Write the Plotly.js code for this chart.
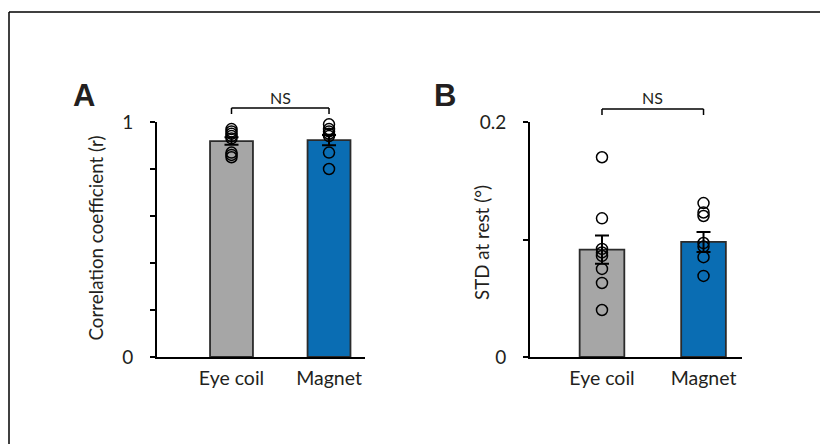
<!DOCTYPE html>
<html><head><meta charset="utf-8">
<script src="https://cdn.plot.ly/plotly-3.0.1.min.js"></script>
<style>body{margin:0;background:#fff}</style>
</head><body><div id="chart" style="width:820px;height:444px"></div>
<script>
const categories = ['Eye coil', 'Magnet'];
// Panel A: correlation coefficient
const corrMean = [0.919, 0.923];
const corrSem = [0.016, 0.022];
const corrEyeCoil = [0.97, 0.96, 0.95, 0.94, 0.93, 0.87, 0.86, 0.85];
const corrMagnet = [0.99, 0.97, 0.96, 0.95, 0.94, 0.87, 0.80];
const corrTickVals = [0, 0.2, 0.4, 0.6, 0.8, 1];
const corrTickText = ['0', '', '', '', '', '1'];
// Panel B: STD at rest
const stdMean = [0.0914, 0.0979];
const stdSem = [0.012, 0.0085];
const stdEyeCoil = [0.170, 0.118, 0.092, 0.089, 0.086, 0.075, 0.063, 0.040];
const stdMagnet = [0.131, 0.123, 0.120, 0.097, 0.094, 0.085, 0.069];
const stdTickVals = [0, 0.1, 0.2];
const stdTickText = ['0', '', '0.2'];

const barColors = ['#a6a6a6', '#0a6db3'];
const txt = '#231f20';
const FONT = 'Lato, Open Sans, sans-serif';

function barTrace(means, sems, xa, ya) {
  return {
    type: 'bar', x: categories, y: means, xaxis: xa, yaxis: ya, width: 0.44,
    marker: {color: barColors, line: {color: '#2b2b2b', width: 1.8}},
    error_y: {type: 'data', array: sems, visible: true, color: '#000', thickness: 2, width: 7},
    hoverinfo: 'skip'
  };
}
function ptsTrace(cat, vals, xa, ya) {
  return {
    type: 'scatter', mode: 'markers', x: vals.map(() => cat), y: vals, xaxis: xa, yaxis: ya,
    cliponaxis: false,
    marker: {symbol: 'circle-open', size: 11, color: '#000', line: {width: 1.5, color: '#000'}},
    hoverinfo: 'skip'
  };
}

const data = [
  barTrace(corrMean, corrSem, 'x', 'y'),
  ptsTrace(categories[0], corrEyeCoil, 'x', 'y'),
  ptsTrace(categories[1], corrMagnet, 'x', 'y'),
  barTrace(stdMean, stdSem, 'x2', 'y2'),
  ptsTrace(categories[0], stdEyeCoil, 'x2', 'y2'),
  ptsTrace(categories[1], stdMagnet, 'x2', 'y2')
];

const yDom = [87/444, 322/444];
const xAxisCommon = {
  type: 'category', showline: true, linecolor: '#000', linewidth: 2, ticks: '',
  showgrid: false, zeroline: false, fixedrange: true,
  tickfont: {family: FONT, size: 19.5, color: txt}, ticklabelstandoff: 3
};
const yAxisCommon = {
  showline: true, linecolor: '#000', linewidth: 2, ticks: 'outside', ticklen: 5, tickwidth: 2,
  tickcolor: '#000', showgrid: false, zeroline: false, fixedrange: true,
  tickfont: {family: FONT, size: 19, color: txt}, ticklabelstandoff: 13
};

function ann(text, xref, x, yPx, size, family, angle) {
  return {text: text, xref: xref, yref: 'paper', x: x, y: 1 - yPx/444, xanchor: 'center', yanchor: 'middle',
          textangle: angle || 0, showarrow: false, font: {family: family, size: size, color: txt}};
}

const layout = {
  width: 820, height: 444, margin: {l: 0, r: 0, t: 0, b: 0},
  paper_bgcolor: '#fff', plot_bgcolor: '#fff', showlegend: false,
  font: {family: FONT, color: txt},
  xaxis: Object.assign({}, xAxisCommon, {domain: [157/820, 365/820], range: [-0.764, 1.369], anchor: 'y'}),
  yaxis: Object.assign({}, yAxisCommon, {domain: yDom, range: [0, 1], tickvals: corrTickVals, ticktext: corrTickText, anchor: 'x'}),
  xaxis2: Object.assign({}, xAxisCommon, {domain: [530/820, 742/820], range: [-0.709, 1.379], anchor: 'y2'}),
  yaxis2: Object.assign({}, yAxisCommon, {domain: yDom, range: [0, 0.2], tickvals: stdTickVals, ticktext: stdTickText, anchor: 'x2'}),
  shapes: [
    // frame
    {type: 'line', xref: 'paper', yref: 'paper', x0: 9/820, x1: 1, y0: 1 - 12/444, y1: 1 - 12/444, line: {color: '#000', width: 1.5}},
    {type: 'line', xref: 'paper', yref: 'paper', x0: 9/820, x1: 9/820, y0: 1 - 12/444, y1: 0, line: {color: '#000', width: 1.5}}
  ],
  annotations: [
    ann('<b>A</b>', 'paper', 84/820, 95.5, 31, 'Liberation Sans, Arial, sans-serif'),
    ann('<b>B</b>', 'paper', 444.5/820, 95.5, 31, 'Liberation Sans, Arial, sans-serif'),
    ann('NS', 'x', 0.5, 97.5, 16, FONT),
    ann('NS', 'x2', 0.5, 97.5, 16, FONT),
    ann('Correlation coefficient (r)', 'paper', 95/820, 238.5, 18.8, FONT, -90),
    ann('STD at rest (°)', 'paper', 482/820, 243, 18.8, FONT, -90)
  ]
};
// NS brackets spanning the two category centres (x in data coords, y in paper)
function bracket(xref, yTopPx, yBotPx) {
  const yt = 1 - yTopPx/444, yb = 1 - yBotPx/444;
  return [
    {type: 'line', xref: xref, yref: 'paper', x0: 0, x1: 1, y0: yt, y1: yt, line: {color: '#000', width: 1.5}},
    {type: 'line', xref: xref, yref: 'paper', x0: 0, x1: 0, y0: yt, y1: yb, line: {color: '#000', width: 1.5}},
    {type: 'line', xref: xref, yref: 'paper', x0: 1, x1: 1, y0: yt, y1: yb, line: {color: '#000', width: 1.5}}
  ];
}
layout.shapes = layout.shapes.concat(bracket('x', 108, 114), bracket('x2', 109, 115));

Plotly.newPlot('chart', data, layout, {displayModeBar: false, staticPlot: true});
</script></body></html>
